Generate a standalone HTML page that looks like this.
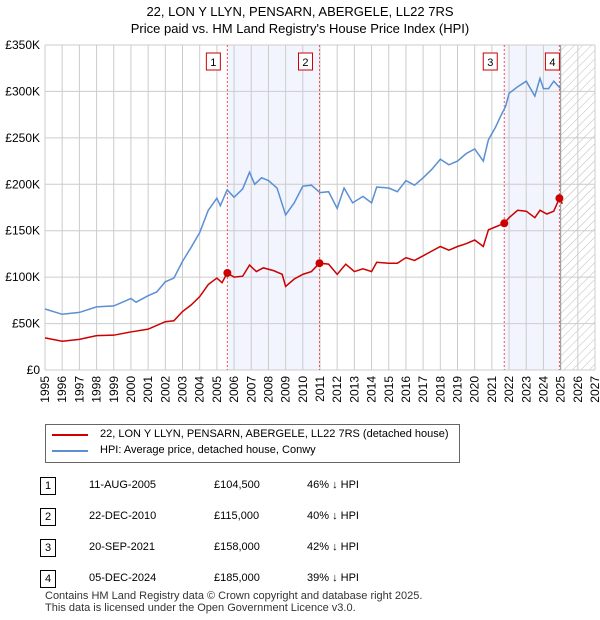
<!DOCTYPE html>
<html><head><meta charset="utf-8"><style>
body{margin:0;background:#fff;font-family:"Liberation Sans","DejaVu Sans",sans-serif;color:#000}
#wrap{position:relative;width:600px;height:620px;overflow:hidden}
.t{position:absolute;font-size:12px;white-space:nowrap}
.nb{position:absolute;width:14px;height:16px;border:1px solid #000;font-size:11px;text-align:center;line-height:16px;left:40px}
</style></head><body><div id="wrap">
<div class="t" style="left:0;width:600px;text-align:center;top:3px;font-size:13px;line-height:17px">22, LON Y LLYN, PENSARN, ABERGELE, LL22 7RS<br>Price paid vs. HM Land Registry's House Price Index (HPI)</div>
<svg id="chart" width="600" height="420" style="position:absolute;left:0;top:0">
<defs><pattern id="hatch" width="6" height="6" patternUnits="userSpaceOnUse" patternTransform="rotate(45)"><line x1="0" y1="0" x2="0" y2="6" stroke="#bbb" stroke-width="1"/></pattern></defs>
<g id="g"></g></svg>
<div style="position:absolute;left:45px;top:424px;width:413px;height:37px;border:1px solid #666"></div>
<svg style="position:absolute;left:50px;top:428px" width="40" height="30"><line x1="2" y1="7" x2="38" y2="7" stroke="#cc0000" stroke-width="2"/><line x1="2" y1="23" x2="38" y2="23" stroke="#5b8fd4" stroke-width="2"/></svg>
<div class="t" style="left:100px;top:428px;font-size:11px">22, LON Y LLYN, PENSARN, ABERGELE, LL22 7RS (detached house)</div>
<div class="t" style="left:100px;top:444px;font-size:11px">HPI: Average price, detached house, Conwy</div>
<div id="tbl"></div>
<div class="t" style="left:45px;top:590px;font-size:11px;line-height:12px;color:#333">Contains HM Land Registry data © Crown copyright and database right 2025.<br>This data is licensed under the Open Government Licence v3.0.</div>
</div>
<script>
const hpiYears=[1995,1996,1997,1998,1999,2000,2000.3,2001,2001.5,2002,2002.5,2003,2003.5,2004,2004.5,2005,2005.2,2005.6,2006,2006.5,2006.9,2007.2,2007.6,2008,2008.5,2009,2009.5,2010,2010.5,2011,2011.5,2012,2012.4,2012.9,2013.5,2014,2014.3,2015,2015.5,2016,2016.5,2017,2017.5,2018,2018.5,2019,2019.5,2020,2020.5,2020.8,2021.2,2021.5,2021.8,2022,2022.5,2023,2023.5,2023.8,2024,2024.3,2024.6,2025];
const hpiValues=[65.7,60,62,68,69,77,73,80,84,95,99,117,132,148,172,185,177,194,186,195,213,200,207,204,196,167,180,198,199,191,192,174,196,180,187,180,197,196,192,204,199,207,216,227,221,225,233,238,225,248,261,273,284,298,305,311,295,314,303,303,311,303];
const ppYears=[1995,1996,1997,1998,1999,2000,2001,2002,2002.5,2003,2003.5,2004,2004.5,2005,2005.3,2005.6,2006,2006.5,2006.9,2007.3,2007.7,2008.3,2008.8,2009,2009.5,2010,2010.5,2010.97,2011.5,2012,2012.5,2013,2013.5,2014,2014.3,2015,2015.5,2016,2016.5,2017,2017.5,2018,2018.5,2019,2019.5,2020,2020.5,2020.8,2021.2,2021.72,2022,2022.5,2023,2023.5,2023.8,2024.2,2024.6,2024.93,2025.1];
const ppValues=[34.6,31,33,37,37.5,41,44,52,53,63,70,79,92,99,94,104.5,100,101,113,106,110,107,103,90,98,103,106,115,114,103,114,106,109,106,116,115,115,121,118,123,128,133,129,133,136,140,133,151,154,158,164,172,171,164,172,168,171,185,179];
const saleYears=[2005.61,2010.97,2021.72,2024.93];
const saleValues=[104.5,115,158,185];
const saleLabels=["1","2","3","4"];
const yTicks=[0,50,100,150,200,250,300,350];
const yTickLabels=["£0","£50K","£100K","£150K","£200K","£250K","£300K","£350K"];
const xTicks=[1995,1996,1997,1998,1999,2000,2001,2002,2003,2004,2005,2006,2007,2008,2009,2010,2011,2012,2013,2014,2015,2016,2017,2018,2019,2020,2021,2022,2023,2024,2025,2026,2027];
const rowDates=["11-AUG-2005","22-DEC-2010","20-SEP-2021","05-DEC-2024"];
const rowPrices=["£104,500","£115,000","£158,000","£185,000"];
const rowHpi=["46% ↓ HPI","40% ↓ HPI","42% ↓ HPI","39% ↓ HPI"];
const L=45,R=595,T=45,B=370;
const X=y=>L+(y-1995)/32*(R-L), Y=v=>B-v/350*(B-T);
const g=document.getElementById('g'),NS='http://www.w3.org/2000/svg';
function mk(t,a,p){const e=document.createElementNS(NS,t);for(const k in a)e.setAttribute(k,a[k]);(p||g).appendChild(e);return e;}
let e;
e=mk('rect',{x:X(saleYears[0]),y:T,width:X(saleYears[1])-X(saleYears[0]),height:B-T,fill:'#f2f5fd'});

e=mk('rect',{x:X(saleYears[2]),y:T,width:X(saleYears[3])-X(saleYears[2]),height:B-T,fill:'#f2f5fd'});

e=mk('rect',{x:X(2025),y:T,width:R-X(2025),height:B-T,fill:'url(#hatch)'});

xTicks.forEach(t=>{e=mk('line',{x1:X(t),x2:X(t),y1:T,y2:B,stroke:'#ccc'});
e=mk('text',{x:0,y:0,transform:`translate(${X(t)+4},${B+6}) rotate(-90)`,'text-anchor':'end','font-size':'12'});e.textContent=t;});
yTicks.forEach((t,i)=>{e=mk('line',{x1:L,x2:R,y1:Y(t),y2:Y(t),stroke:'#ccc'});
e=mk('text',{x:L-5,y:Y(t)+4,'text-anchor':'end','font-size':'12'});e.textContent=yTickLabels[i];});
e=mk('line',{x1:X(2025),x2:X(2025),y1:T,y2:B,stroke:'#999'});
saleYears.forEach((s,i)=>{e=mk('line',{x1:X(s),x2:X(s),y1:T,y2:B,stroke:'#e55','stroke-dasharray':'2,2'});
const bx=X(s)-(i==3?7:14);
e=mk('rect',{x:bx-7,y:53,width:14,height:17,fill:'#fff',stroke:'#cc0000'});
e=mk('text',{x:bx,y:66,'text-anchor':'middle','font-size':'11'});e.textContent=saleLabels[i];});
e=mk('polyline',{points:hpiYears.map((y,i)=>X(y)+','+Y(hpiValues[i])).join(' '),fill:'none',stroke:'#5b8fd4','stroke-width':1.5});

e=mk('polyline',{points:ppYears.map((y,i)=>X(y)+','+Y(ppValues[i])).join(' '),fill:'none',stroke:'#cc0000','stroke-width':1.5});

saleYears.forEach((s,i)=>{e=mk('circle',{cx:X(s),cy:Y(saleValues[i]),r:4,fill:'#cc0000'});});
const tb=document.getElementById('tbl'),tops=[477,508,539,570];
rowDates.forEach((d,i)=>{
 let r=document.createElement('div');r.style.cssText=`position:absolute;left:0;top:${tops[i]}px;width:600px;height:18px`;
 
 r.innerHTML=`<div class="nb">${saleLabels[i]}</div><div class="t" style="left:89px;top:2px;font-size:11px">${d}</div><div class="t" style="left:214px;top:2px;font-size:11px">${rowPrices[i]}</div><div class="t" style="left:307px;top:2px;font-size:11px">${rowHpi[i]}</div>`;
 tb.appendChild(r);});
</script></body></html>
